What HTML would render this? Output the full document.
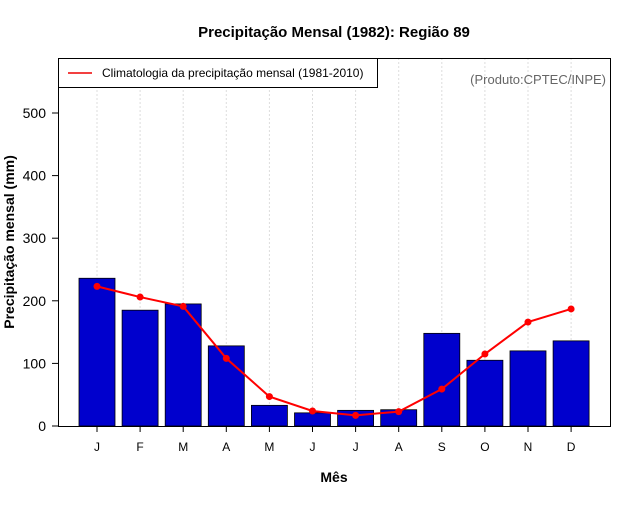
<!DOCTYPE html>
<html><head><meta charset="utf-8"><style>
body{margin:0;background:#fff}
svg text{font-family:"Liberation Sans",sans-serif}
</style></head><body>
<svg id="chart" width="640" height="500" xmlns="http://www.w3.org/2000/svg">
<text x="334" y="37" font-size="15" font-weight="bold" text-anchor="middle">Precipitação Mensal (1982): Região 89</text>
<g id="grid"></g>
<g id="bars"></g>
<g id="line"></g>
<rect x="58.5" y="58.5" width="552" height="368" fill="none" stroke="#000" stroke-width="1"/>
<g id="yaxis"></g>
<g id="xaxis"></g>
<text transform="translate(14,242) rotate(-90)" font-size="14" font-weight="bold" text-anchor="middle">Precipitação mensal (mm)</text>
<text x="334" y="482" font-size="14" font-weight="bold" text-anchor="middle">Mês</text>
<g>
<rect x="58.5" y="58.5" width="319" height="29" fill="#fff" stroke="#000"/>
<line x1="68" y1="73" x2="92" y2="73" stroke="#e00" stroke-width="1.5"/>
<text x="102" y="77" font-size="12">Climatologia da precipitação mensal (1981-2010)</text>
</g>
<text x="606" y="84" font-size="13" fill="#666" text-anchor="end">(Produto:CPTEC/INPE)</text>
</svg>
<script>
const months=["J","F","M","A","M","J","J","A","S","O","N","D"];
const observed=[236,185,195,128,33,21,25,26,148,105,120,136];
const climatology=[223,206,191,108,47,24,17,23,59,115,166,187];
const yTicks=[0,100,200,300,400,500];
const NS="http://www.w3.org/2000/svg";
const y=v=>426-v*0.626;
const x=i=>97+i*43.1;
function mk(t,a,p){const e=document.createElementNS(NS,t);for(const k in a)e.setAttribute(k,a[k]);p.appendChild(e);return e;}
const grid=document.getElementById('grid'),bars=document.getElementById('bars'),line=document.getElementById('line'),ya=document.getElementById('yaxis'),xa=document.getElementById('xaxis');
months.forEach((m,i)=>{
 const g=mk('line',{x1:x(i),x2:x(i),y1:58,y2:426,stroke:'#ddd','stroke-dasharray':'2,2'},grid);
 
 
 const b=mk('rect',{x:x(i)-18,y:y(observed[i]),width:36,height:426-y(observed[i]),fill:'#0000cd',stroke:'#000','stroke-width':0.8},bars);
 
 
 const t=mk('line',{x1:x(i),x2:x(i),y1:426,y2:432,stroke:'#000'},xa);
 
 
 const l=mk('text',{x:x(i),y:451,'font-size':12,'text-anchor':'middle'},xa);l.textContent=m;
 
 
});
mk('polyline',{points:climatology.map((v,i)=>x(i)+','+y(v)).join(' '),fill:'none',stroke:'#f00','stroke-width':2},line);
climatology.forEach((v,i)=>{
 const c=mk('circle',{cx:x(i),cy:y(v),r:3.5,fill:'#f00'},line);
 
 
});
yTicks.forEach(v=>{
 const t=mk('line',{x1:52,x2:58,y1:y(v),y2:y(v),stroke:'#000'},ya);
 
 
 const l=mk('text',{x:46,y:y(v)+5,'font-size':14,'text-anchor':'end'},ya);l.textContent=v;
 
 
});
</script>
</body></html>
